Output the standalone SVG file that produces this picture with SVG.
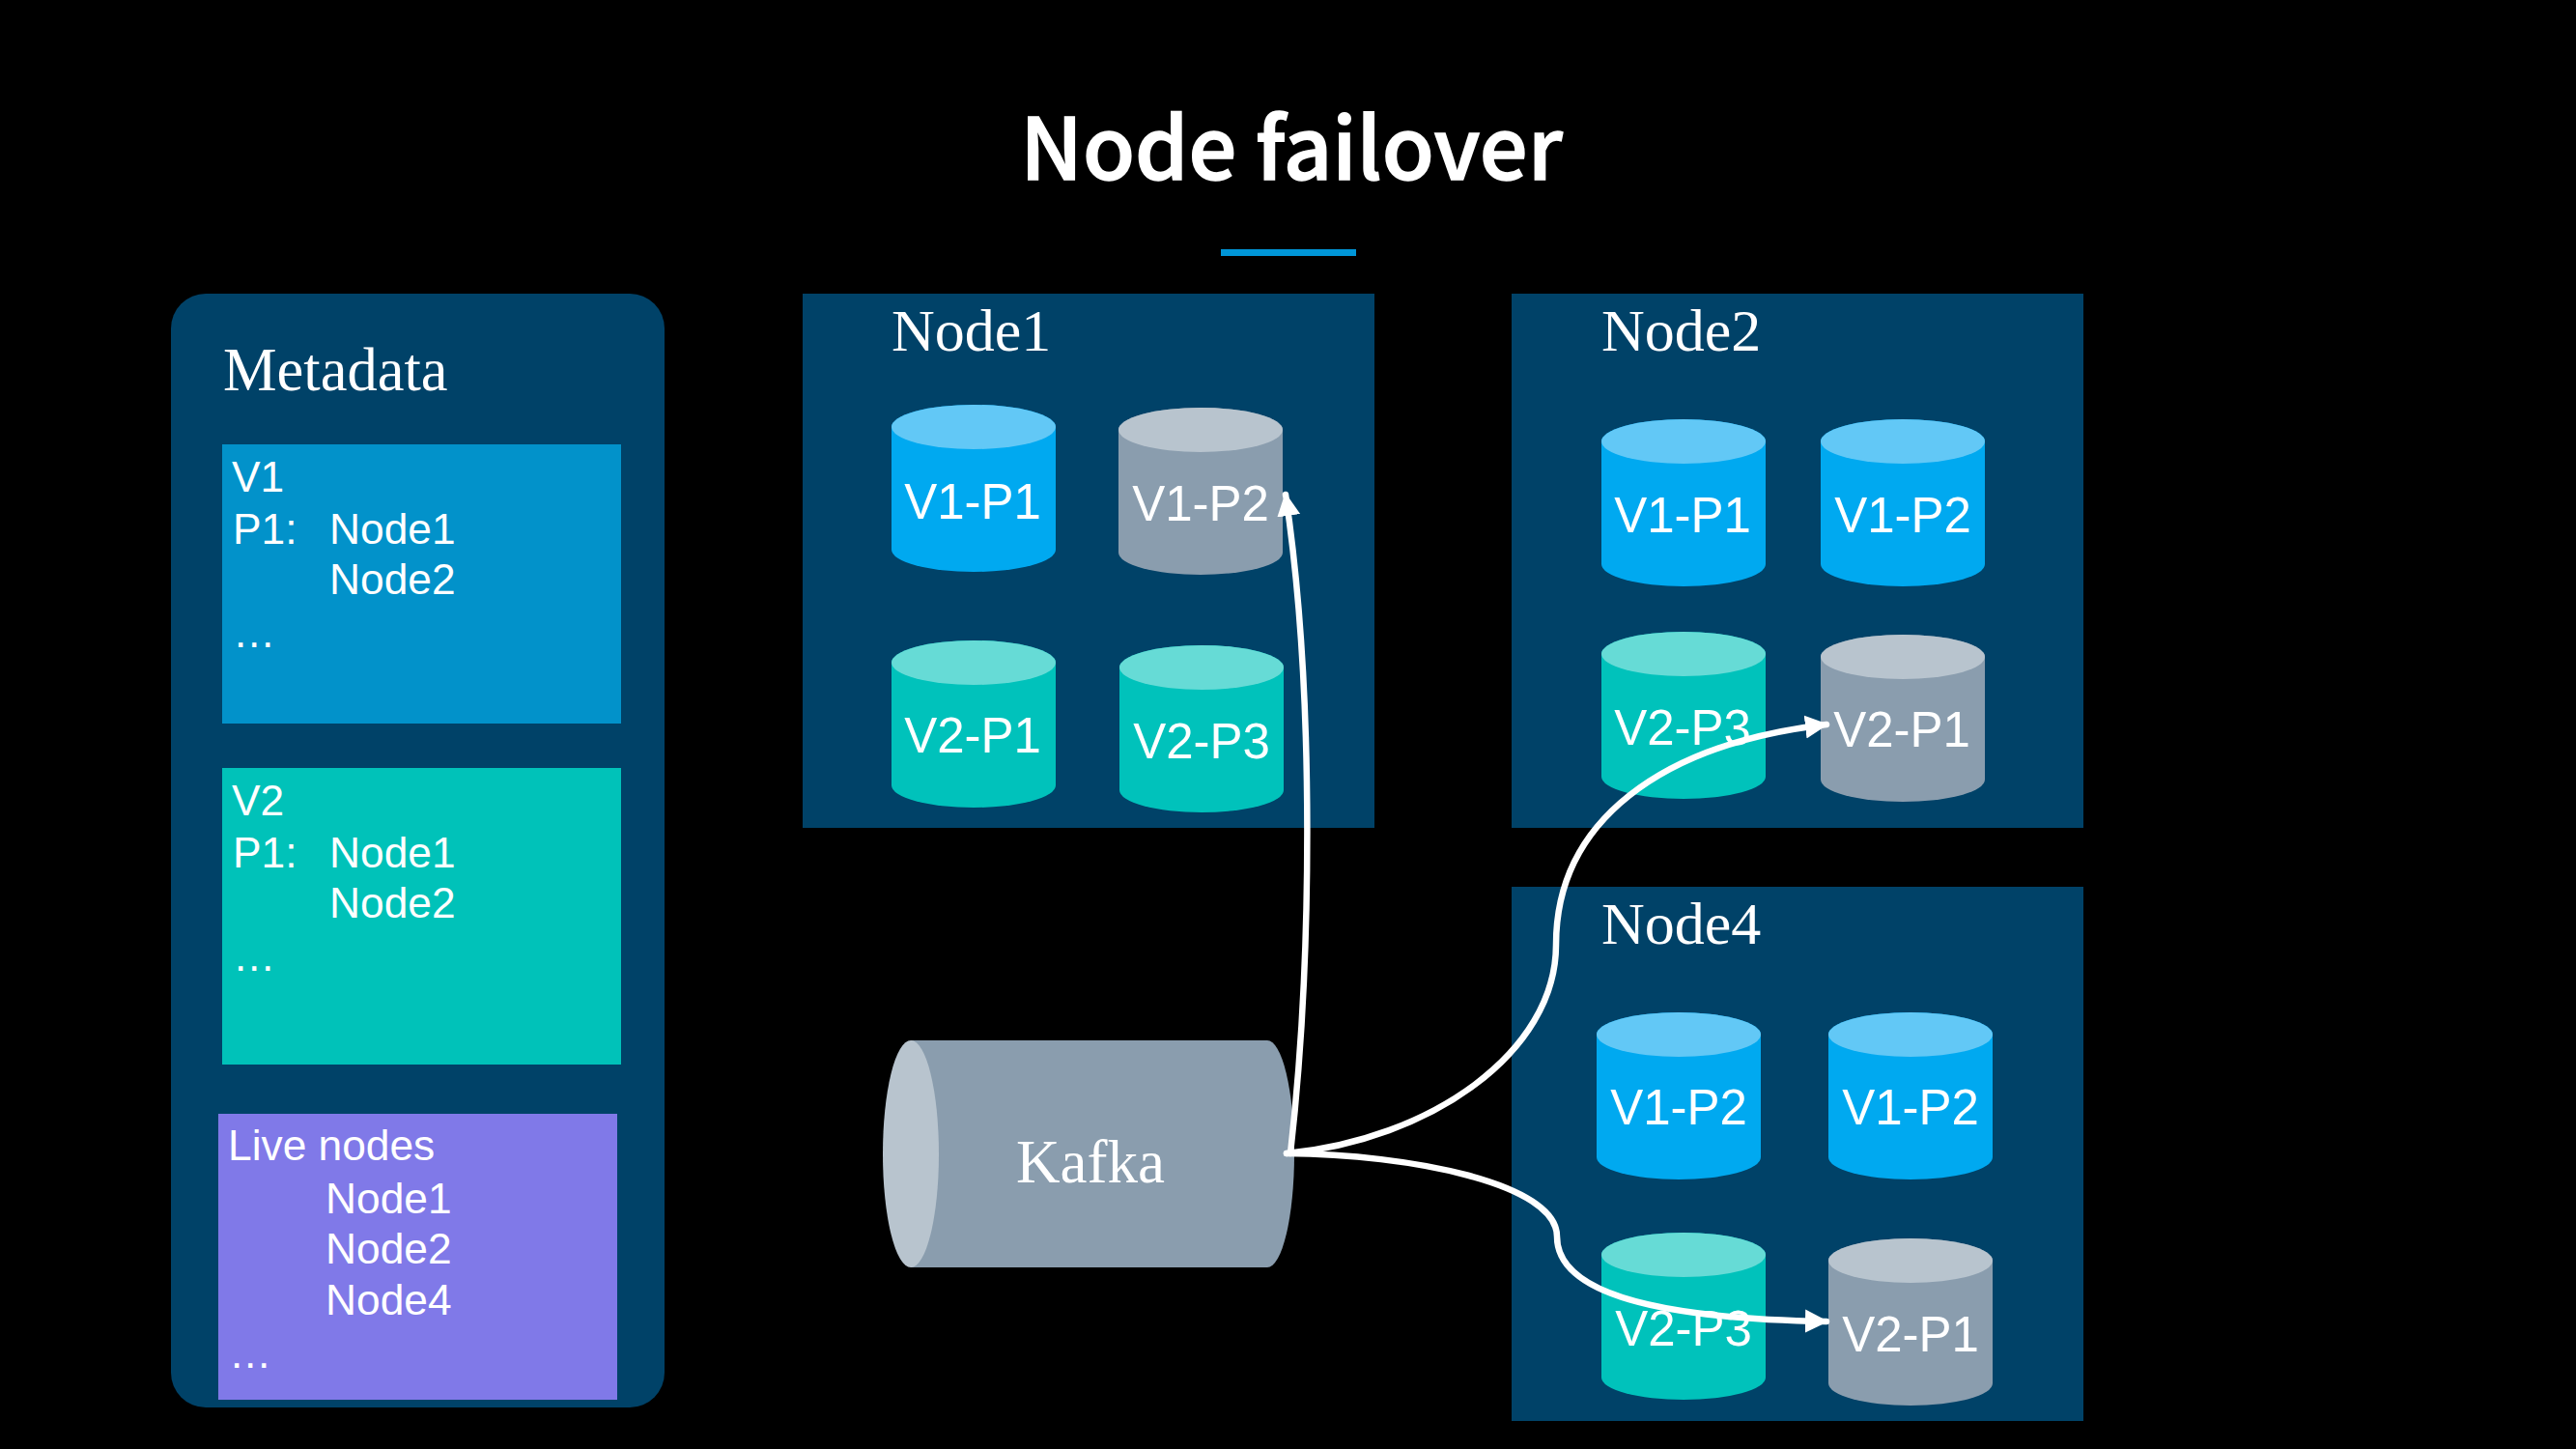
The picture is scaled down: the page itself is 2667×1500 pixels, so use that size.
<svg xmlns="http://www.w3.org/2000/svg" width="2667" height="1500" viewBox="0 0 2667 1500">
<style>
text{fill:#fff}
.s{font-family:"Liberation Serif",serif;font-size:62px}
.a{font-family:"Liberation Sans",Arial,sans-serif;font-size:44.300px}
.c{font-family:"Liberation Sans",Arial,sans-serif;font-size:51px;text-anchor:middle}
.panel{fill:#004268}
.blue{--b:#00a9f0;--t:#62c8f6}
.teal{--b:#00c2bb;--t:#66dbd6}
.gray{--b:#8a9dae;--t:#b8c4ce}
.b{fill:var(--b)}
.t{fill:var(--t)}
.conn{fill:none;stroke:#fff;stroke-width:6.500;stroke-linecap:round}
</style>
<defs>
<g id="cyl"><path class="b" d="M0 23A85 23 0 0 1 170 23V150A85 23 0 0 1 0 150Z"/><ellipse class="t" cx="85" cy="23" rx="85" ry="23"/></g>
<marker id="arrow" markerUnits="userSpaceOnUse" markerWidth="26" markerHeight="28" refX="22" refY="14" orient="auto"><path d="M0 2L24 14L0 26Z" fill="#fff"/></marker>
</defs>
<rect id="background" width="2667" height="1500" fill="#000"/>
<g id="title">
<text x="1337" y="186" text-anchor="middle" style="font-family:'Noto Sans CJK SC','Noto Sans',sans-serif;font-size:88px;font-weight:500;stroke:#fff;stroke-width:1.500px">Node failover</text>
<rect x="1264" y="258" width="140" height="7" fill="#0096d8"/>
</g>
<g id="metadata">
<rect class="panel" x="177" y="304" width="511" height="1153" rx="36"/>
<text class="s" x="231" y="404" style="font-size:62.500px">Metadata</text>
<g id="v1-box"><rect x="230" y="460" width="413" height="289" fill="#0292ca"/>
<text class="a" x="240" y="509">V1</text><text class="a" x="241" y="563">P1:</text><text class="a" x="341" y="563">Node1</text><text class="a" x="341" y="615">Node2</text><text class="a" x="241" y="670">…</text></g>
<g id="v2-box"><rect x="230" y="795" width="413" height="307" fill="#00c2b9"/>
<text class="a" x="240" y="844">V2</text><text class="a" x="241" y="898">P1:</text><text class="a" x="341" y="898">Node1</text><text class="a" x="341" y="950">Node2</text><text class="a" x="241" y="1005">…</text></g>
<g id="live-box"><rect x="226" y="1153" width="413" height="296" fill="#8079e8"/>
<text class="a" x="236" y="1201">Live nodes</text><text class="a" x="337" y="1256">Node1</text><text class="a" x="337" y="1308">Node2</text><text class="a" x="337" y="1361">Node4</text><text class="a" x="237" y="1416">…</text></g>
</g>
<g id="node1">
<rect class="panel" x="831" y="304" width="592" height="553"/>
<text class="s" x="923" y="363">Node1</text>
<g class="blue"><use href="#cyl" x="923" y="419"/><text class="c" x="1007" y="537">V1-P1</text></g>
<g class="gray"><use href="#cyl" x="1158" y="422"/><text class="c" x="1243" y="539">V1-P2</text></g>
<g class="teal"><use href="#cyl" x="923" y="663"/><text class="c" x="1007" y="779">V2-P1</text></g>
<g class="teal"><use href="#cyl" x="1159" y="668"/><text class="c" x="1244" y="785">V2-P3</text></g>
</g>
<g id="node2">
<rect class="panel" x="1565" y="304" width="592" height="553"/>
<text class="s" x="1658" y="363">Node2</text>
<g class="blue"><use href="#cyl" x="1658" y="434"/><text class="c" x="1742" y="551">V1-P1</text></g>
<g class="blue"><use href="#cyl" x="1885" y="434"/><text class="c" x="1970" y="551">V1-P2</text></g>
<g class="teal"><use href="#cyl" x="1658" y="654"/><text class="c" x="1742" y="771">V2-P3</text></g>
<g class="gray"><use href="#cyl" x="1885" y="657"/><text class="c" x="1969" y="773">V2-P1</text></g>
</g>
<g id="node4">
<rect class="panel" x="1565" y="918" width="592" height="553"/>
<text class="s" x="1658" y="977">Node4</text>
<g class="blue"><use href="#cyl" x="1653" y="1048"/><text class="c" x="1738" y="1164">V1-P2</text></g>
<g class="blue"><use href="#cyl" x="1893" y="1048"/><text class="c" x="1978" y="1164">V1-P2</text></g>
<g class="teal"><use href="#cyl" x="1658" y="1276"/><text class="c" x="1743" y="1393">V2-P3</text></g>
<g class="gray"><use href="#cyl" x="1893" y="1282"/><text class="c" x="1978" y="1399">V2-P1</text></g>
</g>
<g id="kafka">
<path d="M943 1077H1312A28 117.500 0 0 1 1312 1312H943Z" fill="#8a9dae"/>
<ellipse cx="943" cy="1194.500" rx="29" ry="117.500" fill="#b8c4ce"/>
<text class="s" x="1129" y="1224" text-anchor="middle" style="font-size:63px">Kafka</text>
</g>
<g id="connectors">
<path class="conn" d="M1336 1194C1358 1000 1362 720 1331 512" marker-end="url(#arrow)"/>
<path class="conn" d="M1332 1194C1480 1180 1611 1090 1611 978C1611 850 1720 770 1891 750" marker-end="url(#arrow)"/>
<path class="conn" d="M1332 1194C1460 1195 1612 1225 1612 1280C1612 1340 1720 1365 1891 1368" marker-end="url(#arrow)"/>
</g>
</svg>
